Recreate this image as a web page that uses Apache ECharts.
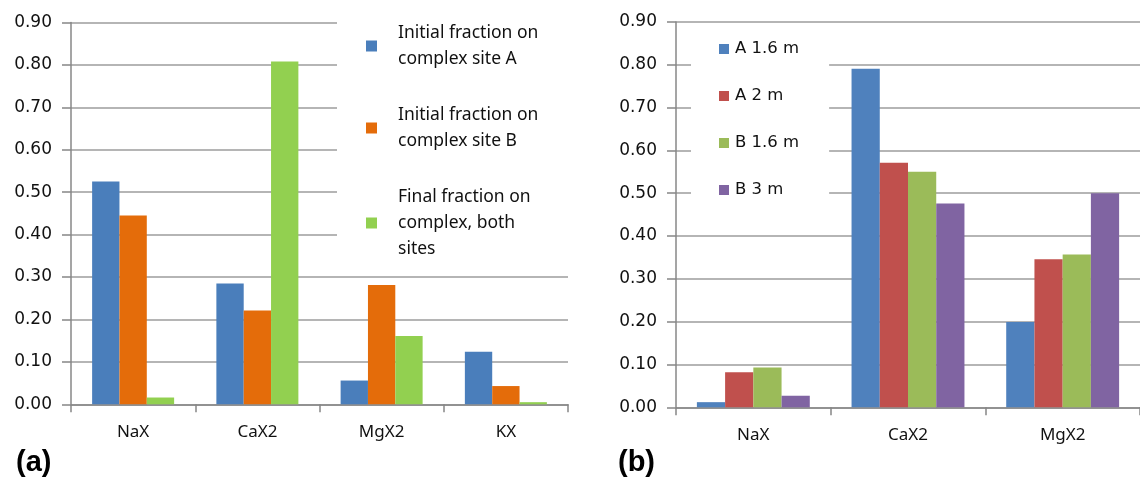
<!DOCTYPE html>
<html>
<head>
<meta charset="utf-8">
<script src="https://cdn.jsdelivr.net/npm/echarts@6/dist/echarts.min.js"></script>
<style>
  html, body { margin: 0; padding: 0; background: #ffffff; }
  #chart { width: 1140px; height: 480px; }
</style>
</head>
<body>
<div id="chart"></div>
<script>
// Panel (a): exchange-complex fractions per site
const catsA = ['NaX', 'CaX2', 'MgX2', 'KX'];
const siteA = [0.525, 0.285, 0.056, 0.124];
const siteB = [0.445, 0.221, 0.281, 0.043];
const finalBoth = [0.016, 0.808, 0.161, 0.005];
const namesA = [
  'Initial fraction on\ncomplex site A',
  'Initial fraction on\ncomplex site B',
  'Final fraction on\ncomplex, both\nsites'
];

// Panel (b): fractions by site and depth
const catsB = ['NaX', 'CaX2', 'MgX2'];
const a16 = [0.012, 0.791, 0.199];
const a2 = [0.082, 0.571, 0.346];
const b16 = [0.093, 0.550, 0.357];
const b3 = [0.027, 0.476, 0.500];
const namesB = ['A 1.6 m', 'A 2 m', 'B 1.6 m', 'B 3 m'];

// Value axis: 0.00 .. 0.90 in steps of 0.10
const yMin = 0, yMax = 0.9, yStep = 0.1;

const colorsA = ['#4a7ebb', '#e46c0a', '#92d050'];
const colorsB = ['#4f81bd', '#c0504d', '#9bbb59', '#8064a2'];

const gridGray = '#9c9c9c';
const axisGray = '#878787';
const textColor = '#111111';
const catFont = '"Noto Sans", "Open Sans", sans-serif';
const numFont = '"DejaVu Sans", Verdana, sans-serif';

function valueAxis(gridIndex) {
  return {
    type: 'value', gridIndex,
    min: yMin, max: yMax, interval: yStep,
    axisLine: { show: true, lineStyle: { color: axisGray, width: 1.5 } },
    axisTick: { show: true, length: 9, lineStyle: { color: axisGray, width: 1.5 } },
    splitLine: { show: true, lineStyle: { color: gridGray, width: 1.6 } },
    axisLabel: {
      margin: 19, color: textColor, fontFamily: numFont, fontSize: 17,
      formatter: v => v.toFixed(2)
    }
  };
}

function categoryAxis(gridIndex, data) {
  return {
    type: 'category', gridIndex, data,
    axisLine: { show: true, lineStyle: { color: axisGray, width: 1.5 } },
    axisTick: { show: true, length: 8, lineStyle: { color: axisGray, width: 1.5 } },
    axisLabel: { margin: 19, color: textColor, fontFamily: catFont, fontSize: 17 }
  };
}

function barSeries(name, data, color, axisIndex, gap) {
  return {
    type: 'bar', name, data,
    xAxisIndex: axisIndex, yAxisIndex: axisIndex,
    barGap: '0%', barCategoryGap: gap,
    itemStyle: { color },
    emphasis: { disabled: true }
  };
}

const seriesA = [siteA, siteB, finalBoth].map((d, i) =>
  barSeries(namesA[i], d, colorsA[i], 0, '34%'));
const seriesB = [a16, a2, b16, b3].map((d, i) =>
  barSeries(namesB[i], d, colorsB[i], 1, '27%'));

const chart = echarts.init(document.getElementById('chart'), null, { renderer: 'canvas' });
chart.setOption({
  animation: false,
  backgroundColor: '#ffffff',
  title: [
    { text: '(a)', left: 11, top: 443,
      textStyle: { fontFamily: '"Liberation Sans", Arial, sans-serif', fontWeight: 'bold', fontSize: 29, color: '#000' } },
    { text: '(b)', left: 613, top: 443,
      textStyle: { fontFamily: '"Liberation Sans", Arial, sans-serif', fontWeight: 'bold', fontSize: 29, color: '#000' } }
  ],
  grid: [
    { left: 71, right: 572, top: 22.5, bottom: 75.7, containLabel: false },
    { left: 676, right: -6, top: 22, bottom: 72.7, containLabel: false }
  ],
  xAxis: [categoryAxis(0, catsA), categoryAxis(1, catsB)],
  yAxis: [valueAxis(0), valueAxis(1)],
  legend: [
    {
      data: namesA, orient: 'vertical', left: 337, top: 8,
      padding: [12, 32, 12, 29], itemGap: 30,
      itemWidth: 11, itemHeight: 11, icon: 'rect',
      backgroundColor: '#ffffff', selectedMode: false, z: 10,
      textStyle: { fontFamily: catFont, fontSize: 17.5, lineHeight: 26, color: textColor, padding: [0, 0, 0, 16] }
    },
    {
      data: namesB, orient: 'vertical', left: 691, top: 30,
      padding: [10, 30, 18, 28], itemGap: 29,
      itemWidth: 10, itemHeight: 10, icon: 'rect',
      backgroundColor: '#ffffff', selectedMode: false, z: 10,
      textStyle: { fontFamily: numFont, fontSize: 16.5, lineHeight: 18, color: textColor, padding: [0, 0, 0, 1] }
    }
  ],
  series: seriesA.concat(seriesB)
});
</script>
</body>
</html>
